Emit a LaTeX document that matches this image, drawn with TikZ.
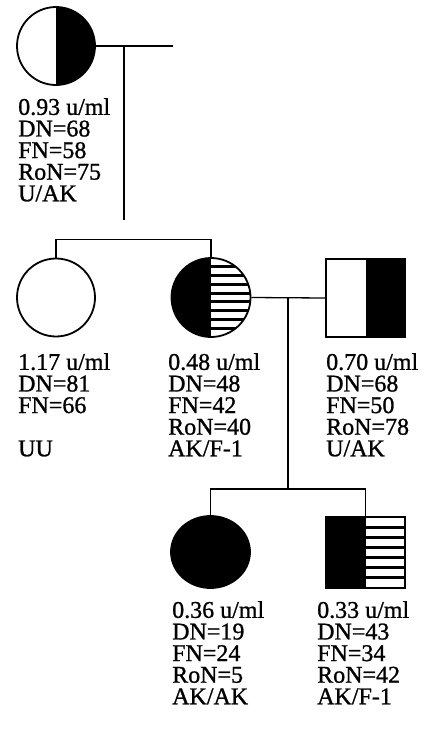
\documentclass[tikz,border=0pt]{standalone}
\usepackage{fontspec}
\setmainfont{Liberation Serif}[UprightFeatures={FakeBold=1}]
\usetikzlibrary{calc, shapes.geometric}

\tikzset{
  femalesym/.style={circle, draw, line width=1.8pt, minimum size=#1, inner sep=0pt},
  femalesym/.default=78pt,
  malesym/.style={rectangle, draw, line width=1.8pt, minimum width=79pt, minimum height=#1, inner sep=0pt},
  malesym/.default=78pt,
  rblack/.style={path picture={\fill (path picture bounding box.north) rectangle (path picture bounding box.south east);}},
  lblackrhatch/.style={path picture={
    \fill (path picture bounding box.north west) rectangle (path picture bounding box.south);
    \foreach \k [evaluate=\k as \f using \k/(#1+1)] in {1,...,#1}
      \draw[line width=3pt] ($(path picture bounding box.north)!\f!(path picture bounding box.south)$) -- ++(45pt,0);}},
  infotext/.style={align=left, anchor=north west, inner sep=0pt, font=\fontsize{24}{21.6}\selectfont},
  link/.style={line width=1.3pt}
}

\begin{document}
\begin{tikzpicture}[x=1pt, y=-1pt]
\useasboundingbox (0,0) rectangle (431,732);

% first generation
\node[femalesym, rblack] (granma) at (56,46) {};
\coordinate (granmaspouse) at (173,46);
\coordinate (granmadrop) at (124,46);
\coordinate (granmaend) at (124,220);
\node[infotext] (granmainfo) at (18,98) {0.93 u/ml\\DN=68\\FN=58\\RoN=75\\U/AK};

% second generation
\node[femalesym] (aunt) at (56,297.5) {};
\node[femalesym=79pt, lblackrhatch=8] (mother) at (211,297.5) {};
\node[malesym, rblack] (father) at (365.5,298) {};
\node[infotext] (auntinfo) at (18,353) {1.17 u/ml\\DN=81\\FN=66\\[21.6pt]UU};
\node[infotext] (motherinfo) at (168,353) {0.48 u/ml\\DN=48\\FN=42\\RoN=40\\AK/F-1};
\node[infotext] (fatherinfo) at (326,353) {0.70 u/ml\\DN=68\\FN=50\\RoN=78\\U/AK};

% third generation
\node[ellipse, draw, line width=1.8pt, fill=black, minimum width=79pt, minimum height=72pt, inner sep=0pt] (girl) at (210.5,552) {};
\node[malesym=71pt, lblackrhatch=6] (boy) at (365.5,552.5) {};
\node[infotext] (girlinfo) at (172,601) {0.36 u/ml\\DN=19\\FN=24\\RoN=5\\AK/AK};
\node[infotext] (boyinfo) at (317,601) {0.33 u/ml\\DN=43\\FN=34\\RoN=42\\AK/F-1};

% connectors
\draw[link] (granma.east) -- (granmaspouse);
\draw[link] (granmadrop) -- (granmaend);
\draw[link] (aunt.north) -- ++(0,-18) -| (mother.north);
\draw[link] (mother.east) -- (father.west);
\coordinate (mate) at (288,297.5);
\coordinate (sib) at (288,489);
\draw[link] (mate) -- (sib);
\draw[link] (girl.north) |- (sib) -| (boy.north);
\end{tikzpicture}
\end{document}
